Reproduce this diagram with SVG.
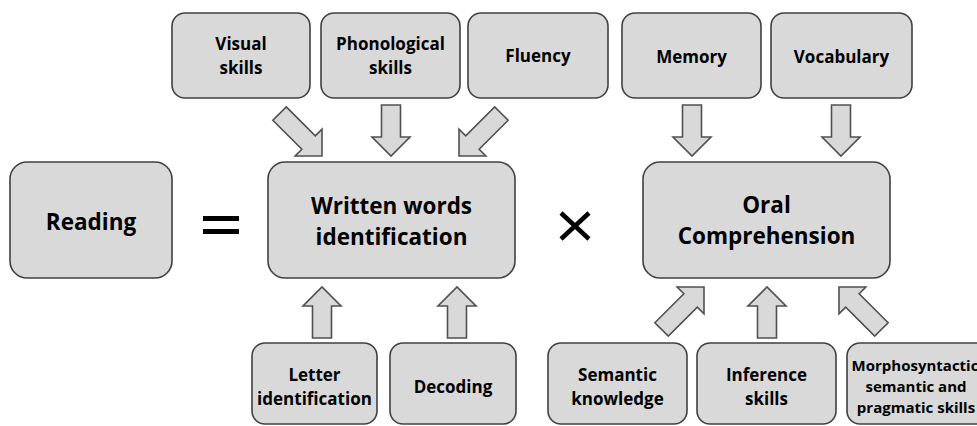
<svg xmlns="http://www.w3.org/2000/svg" width="977" height="426" viewBox="0 0 977 426">
<defs>
<style>
.box{fill:#d9d9d9;stroke:#404040;stroke-width:1.6}
.arr{fill:#d9d9d9;stroke:#505050;stroke-width:1.6;stroke-linejoin:miter}
text{font-family:"Open Sans","Liberation Sans",sans-serif;font-weight:bold;fill:#000;text-anchor:middle}
.s{font-size:17px}
.l{font-size:22.5px}
.m{font-size:15px}
</style>
<path id="aS" d="M-51,-9.5 L-19,-9.5 L-19,-19 L0,0 L-19,19 L-19,9.5 L-51,9.5 Z"/>
<path id="aD" d="M-60,-9.5 L-19,-9.5 L-19,-19 L0,0 L-19,19 L-19,9.5 L-60,9.5 Z"/>
</defs>
<rect width="977" height="426" fill="#fff"/>
<g id="connectors">
<use href="#aD" class="arr" transform="translate(322,156) rotate(45)"/>
<use href="#aS" class="arr" transform="translate(391,156) rotate(90)"/>
<use href="#aD" class="arr" transform="translate(459,156) rotate(135)"/>
<use href="#aS" class="arr" transform="translate(692,156) rotate(90)"/>
<use href="#aS" class="arr" transform="translate(841,156) rotate(90)"/>
<use href="#aS" class="arr" transform="translate(322,287) rotate(-90)"/>
<use href="#aS" class="arr" transform="translate(457,287) rotate(-90)"/>
<use href="#aD" class="arr" transform="translate(704,287) rotate(-45)"/>
<use href="#aS" class="arr" transform="translate(767,287) rotate(-90)"/>
<use href="#aD" class="arr" transform="translate(839,287) rotate(-135)"/>
</g>
<g id="visual"><rect class="box" x="172" y="13" width="138" height="85" rx="13"/><text class="s" x="241" y="50">Visual</text><text class="s" x="241" y="74">skills</text></g>
<g id="phonological"><rect class="box" x="321" y="13" width="139" height="85" rx="13"/><text class="s" x="390.5" y="50">Phonological</text><text class="s" x="390.5" y="74">skills</text></g>
<g id="fluency"><rect class="box" x="468" y="13" width="140" height="85" rx="13"/><text class="s" x="538" y="62">Fluency</text></g>
<g id="memory"><rect class="box" x="622" y="13" width="139" height="85" rx="13"/><text class="s" x="691.5" y="63">Memory</text></g>
<g id="vocabulary"><rect class="box" x="771" y="13" width="141" height="85" rx="13"/><text class="s" x="841.5" y="63">Vocabulary</text></g>
<g id="reading"><rect class="box" x="10" y="162" width="162" height="116" rx="17"/><text class="l" x="91" y="230">Reading</text></g>
<g id="equals"><rect x="203" y="216" width="36" height="5" fill="#000"/><rect x="203" y="229" width="36" height="5" fill="#000"/></g>
<g id="written"><rect class="box" x="268" y="162" width="247" height="116" rx="17"/><text class="l" x="391.5" y="214">Written words</text><text class="l" x="391.5" y="245">identification</text></g>
<g id="times"><path d="M561,213 L589,239 M589,213 L561,239" stroke="#000" stroke-width="4.5" fill="none"/></g>
<g id="oral"><rect class="box" x="643" y="162" width="247" height="116" rx="17"/><text class="l" x="766.5" y="213">Oral</text><text class="l" x="766.5" y="244">Comprehension</text></g>
<g id="letter"><rect class="box" x="252" y="343" width="125" height="81" rx="13"/><text class="s" x="314.5" y="381">Letter</text><text class="s" x="314.5" y="405">identification</text></g>
<g id="decoding"><rect class="box" x="390" y="343" width="126" height="81" rx="13"/><text class="s" x="453" y="393">Decoding</text></g>
<g id="semantic"><rect class="box" x="548" y="343" width="139" height="81" rx="13"/><text class="s" x="617.5" y="381">Semantic</text><text class="s" x="617.5" y="405">knowledge</text></g>
<g id="inference"><rect class="box" x="697" y="343" width="139" height="81" rx="13"/><text class="s" x="766.5" y="381">Inference</text><text class="s" x="766.5" y="405">skills</text></g>
<g id="morpho"><rect class="box" x="847" y="343" width="142" height="81" rx="13"/><text class="m" x="915" y="371">Morphosyntactic</text><text class="m" x="916" y="392">semantic and</text><text class="m" x="916" y="413">pragmatic skills</text></g>
</svg>
